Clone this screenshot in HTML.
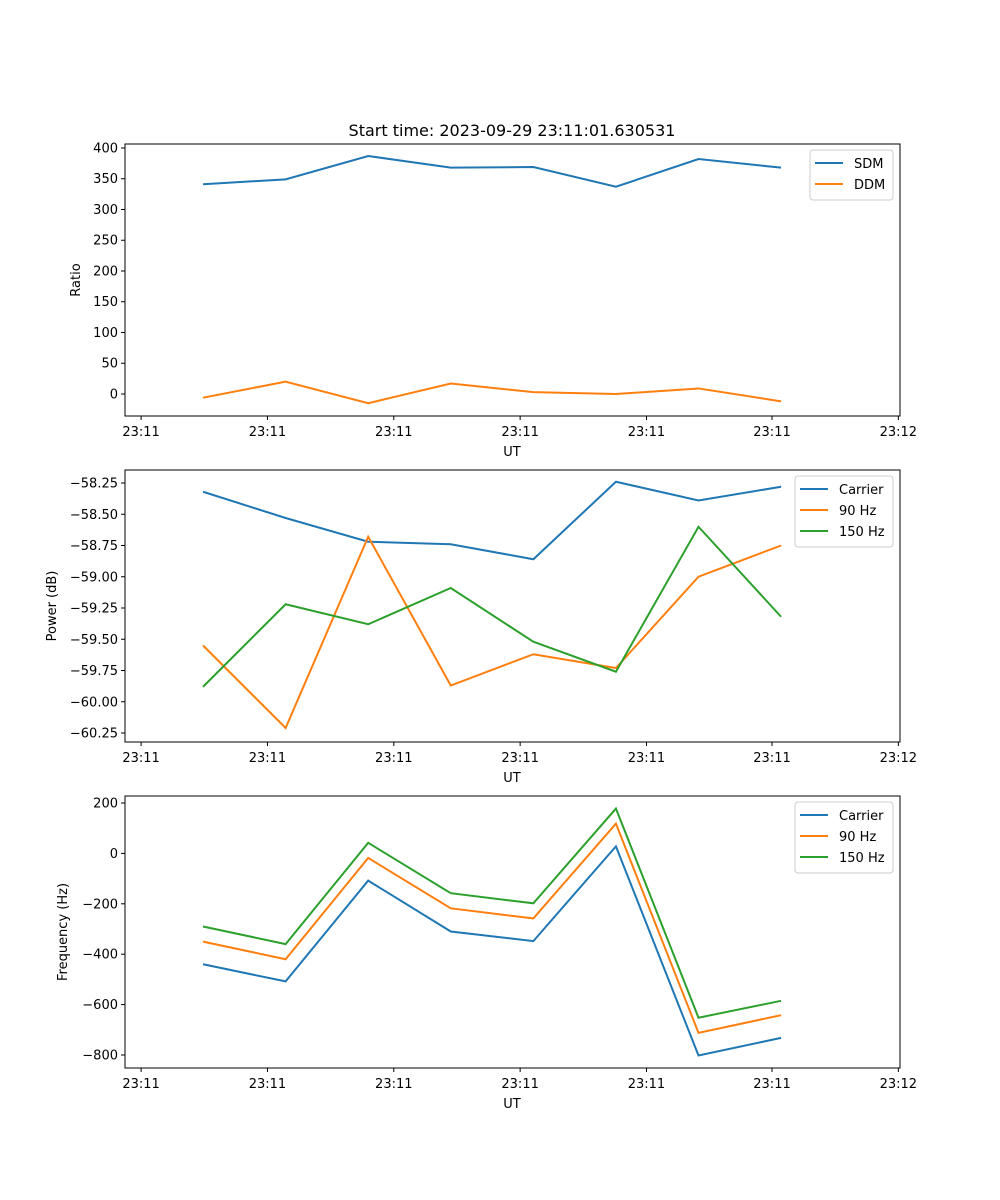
<!DOCTYPE html>
<html><head><meta charset="utf-8"><style>
body{margin:0;background:#fff}
svg{display:block;font-family:"DejaVu Sans","Liberation Sans",sans-serif}
</style></head><body>
<svg id="fig" width="1000" height="1200" xmlns="http://www.w3.org/2000/svg">
<text x="512" y="136" font-size="16" text-anchor="middle">Start time: 2023-09-29 23:11:01.630531</text>
</svg>
<script>
const sampleIdx=[0,1,2,3,4,5,6,7];
const xTickVals=[-0.75,0.78,2.31,3.84,5.37,6.89,8.42];
const xTickLabels=["23:11","23:11","23:11","23:11","23:11","23:11","23:12"];
const sdm=[341,349,387,368,369,337,382,368];
const ddm=[-6,20,-15,17,3,0,9,-12];
const pwrCarrier=[-58.32,-58.53,-58.72,-58.74,-58.86,-58.24,-58.39,-58.28];
const pwr90=[-59.55,-60.21,-58.68,-59.87,-59.62,-59.73,-59.00,-58.75];
const pwr150=[-59.88,-59.22,-59.38,-59.09,-59.52,-59.76,-58.60,-59.32];
const frqCarrier=[-440,-508,-108,-310,-348,28,-802,-732];
const frq90=[-350,-420,-18,-218,-258,118,-712,-642];
const frq150=[-290,-360,42,-158,-198,178,-652,-585];
const ticks1=[0,50,100,150,200,250,300,350,400];
const ticks2=[-60.25,-60.00,-59.75,-59.50,-59.25,-59.00,-58.75,-58.50,-58.25];
const ticks3=[-800,-600,-400,-200,0,200];

const NS="http://www.w3.org/2000/svg";
const svg=document.getElementById('fig');
function mk(tag,attrs,parent){const e=document.createElementNS(NS,tag);for(const k in attrs)e.setAttribute(k,attrs[k]);(parent||svg).appendChild(e);return e;}
const L=125,R=900,XMIN=-0.945,XMAX=8.44;
const xs=v=>L+(v-XMIN)/(XMAX-XMIN)*(R-L);
const C=["#1f77b4","#ff7f0e","#2ca02c"];

function panel(name,top,bot,ymin,ymax,yticks,fmt,ylabel,series,legend){
  const g=mk('g',{});
  
  
  const ys=v=>bot-(v-ymin)/(ymax-ymin)*(bot-top);
  series.forEach((s,k)=>{
    const p=mk('polyline',{points:sampleIdx.map((t,i)=>xs(t)+','+ys(s.vals[i])).join(' '),fill:'none',stroke:C[k],'stroke-width':2},g);
    
    
  });
  const fr=mk('rect',{x:L,y:top,width:R-L,height:bot-top,fill:'none',stroke:'#000','stroke-width':1},g);
  
  
  yticks.forEach(v=>{
    const y=ys(v);
    mk('line',{x1:L-4,x2:L,y1:y,y2:y,stroke:'#000'},g);
    const t=mk('text',{x:L-7,y:y+4.5,'font-size':13,'text-anchor':'end'},g);
    t.textContent=fmt(v);
    
    
  });
  xTickVals.forEach((v,i)=>{
    const x=xs(v);
    mk('line',{x1:x,x2:x,y1:bot,y2:bot+4,stroke:'#000'},g);
    const t=mk('text',{x:x,y:bot+20,'font-size':13,'text-anchor':'middle'},g);
    t.textContent=xTickLabels[i];
    
    
  });
  const xl=mk('text',{x:512,y:bot+40,'font-size':13,'text-anchor':'middle'},g);
  xl.textContent='UT';
  
  
  const yl=mk('text',{transform:`translate(${legend.yl},${(top+bot)/2}) rotate(-90)`,'font-size':13,'text-anchor':'middle'},g);
  yl.textContent=ylabel;
  
  
  const lg=mk('g',{},g);
  
  
  const h=series.length*21+8;
  mk('rect',{x:legend.x,y:top+6,width:R-7-legend.x,height:h,rx:3,fill:'#fff',stroke:'#ccc'},lg);
  series.forEach((s,k)=>{
    const y=top+19+k*21;
    mk('line',{x1:legend.x+5,x2:legend.x+33,y1:y,y2:y,stroke:C[k],'stroke-width':2},lg);
    const t=mk('text',{x:legend.x+44,y:y+5,'font-size':13},lg);
    t.textContent=s.label;
    
    
  });
}
const f0=v=>String(v).replace('-','\u2212');
const f2=v=>v.toFixed(2).replace('-','\u2212');
panel('ratio-panel',144,416,-35.8,406.5,ticks1,f0,'Ratio',
  [{id:'sdm',label:'SDM',vals:sdm},{id:'ddm',label:'DDM',vals:ddm}],{x:810,yl:80});
panel('power-panel',470,742,-60.322,-58.146,ticks2,f2,'Power (dB)',
  [{id:'carrier',label:'Carrier',vals:pwrCarrier},{id:'90hz',label:'90 Hz',vals:pwr90},{id:'150hz',label:'150 Hz',vals:pwr150}],{x:795,yl:56});
panel('frequency-panel',796,1068,-851.6,227.8,ticks3,f0,'Frequency (Hz)',
  [{id:'carrier',label:'Carrier',vals:frqCarrier},{id:'90hz',label:'90 Hz',vals:frq90},{id:'150hz',label:'150 Hz',vals:frq150}],{x:795,yl:67});
</script>
</body></html>
